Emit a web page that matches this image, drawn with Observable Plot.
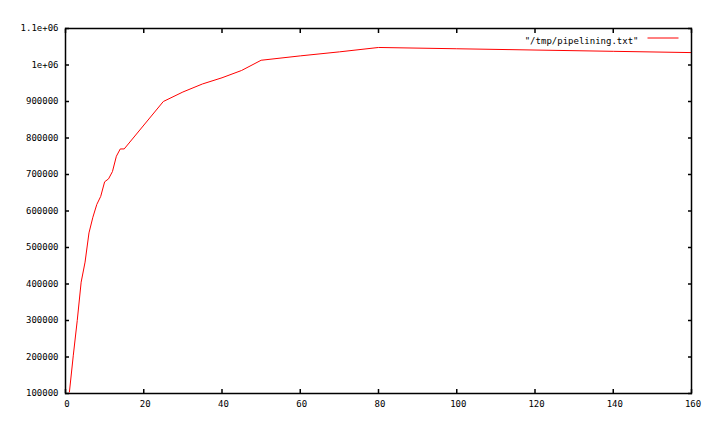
<!DOCTYPE html>
<html>
<head>
<meta charset="utf-8">
<script src="https://cdn.jsdelivr.net/npm/d3@7"></script>
<script src="https://cdn.jsdelivr.net/npm/@observablehq/plot@0.6"></script>
<style>
  html, body { margin: 0; padding: 0; background: #fff; }
</style>
</head>
<body>
<div id="chart"></div>
<script>
const seriesName = "\"/tmp/pipelining.txt\"";
const xValues = [1,2,3,4,5,6,7,8,9,10,11,12,13,14,15,25,30,35,40,45,50,60,70,80,100,120,140,160];
const yValues = [104000,205000,300000,405000,460000,540000,583000,618000,640000,680000,688000,708000,750000,770000,770000,900000,926000,948000,965000,985000,1013000,1025000,1036000,1048000,1044500,1041000,1037500,1034000];
const xTicks = [0,20,40,60,80,100,120,140,160];
const xTickLabels = ["0","20","40","60","80","100","120","140","160"];
const yTicks = [100000,200000,300000,400000,500000,600000,700000,800000,900000,1000000,1100000];
const yTickLabels = ["100000","200000","300000","400000","500000","600000","700000","800000","900000","1e+06","1.1e+06"];

const data = xValues.map((x, i) => ({x, y: yValues[i]}));
const fmtX = d => xTickLabels[xTicks.indexOf(d)];
const fmtY = d => yTickLabels[yTicks.indexOf(d)];
// horizontal line swatch used as a dot symbol for the legend
const swatchSymbol = {draw(ctx) { ctx.moveTo(-15.5, 0); ctx.lineTo(15.5, 0); }};

const chart = Plot.plot({
  width: 713,
  height: 431,
  marginLeft: 65,
  marginRight: 22,
  marginTop: 28,
  marginBottom: 38,
  style: {fontFamily: "'DejaVu Sans Mono', monospace", fontSize: "9px", color: "#000", background: "#fff"},
  x: {domain: [0, 160], label: null},
  y: {domain: [100000, 1100000], label: null},
  marks: [
    Plot.line(data, {x: "x", y: "y", stroke: "#ff0000", strokeWidth: 1}),
    // tick labels
    Plot.axisX(xTicks, {anchor: "bottom", label: null, tickSize: 0, tickPadding: 7, tickFormat: fmtX, dx: 1.5}),
    Plot.axisY(yTicks, {anchor: "left", label: null, tickSize: 0, tickPadding: 7, tickFormat: fmtY}),
    // inward ticks, mirrored
    Plot.axisX(xTicks, {anchor: "bottom", label: null, text: null, tickSize: 4, dy: -4, strokeWidth: 1.5}),
    Plot.axisX(xTicks, {anchor: "top", label: null, text: null, tickSize: 4, dy: 4, strokeWidth: 1.5}),
    Plot.axisY(yTicks, {anchor: "left", label: null, text: null, tickSize: 4, dx: 4, strokeWidth: 1.5}),
    Plot.axisY(yTicks, {anchor: "right", label: null, text: null, tickSize: 4, dx: -4, strokeWidth: 1.5}),
    Plot.frame({stroke: "#000", strokeWidth: 1.5}),
    // legend
    Plot.text([seriesName], {frameAnchor: "top-right", dx: -53, dy: 9, textAnchor: "end", fill: "#000"}),
    Plot.dot([seriesName], {frameAnchor: "top-right", dx: -28.5, dy: 9.5, symbol: swatchSymbol, fill: "none", stroke: "#ff0000", strokeWidth: 1})
  ]
});
document.getElementById("chart").appendChild(chart);
</script>
</body>
</html>
